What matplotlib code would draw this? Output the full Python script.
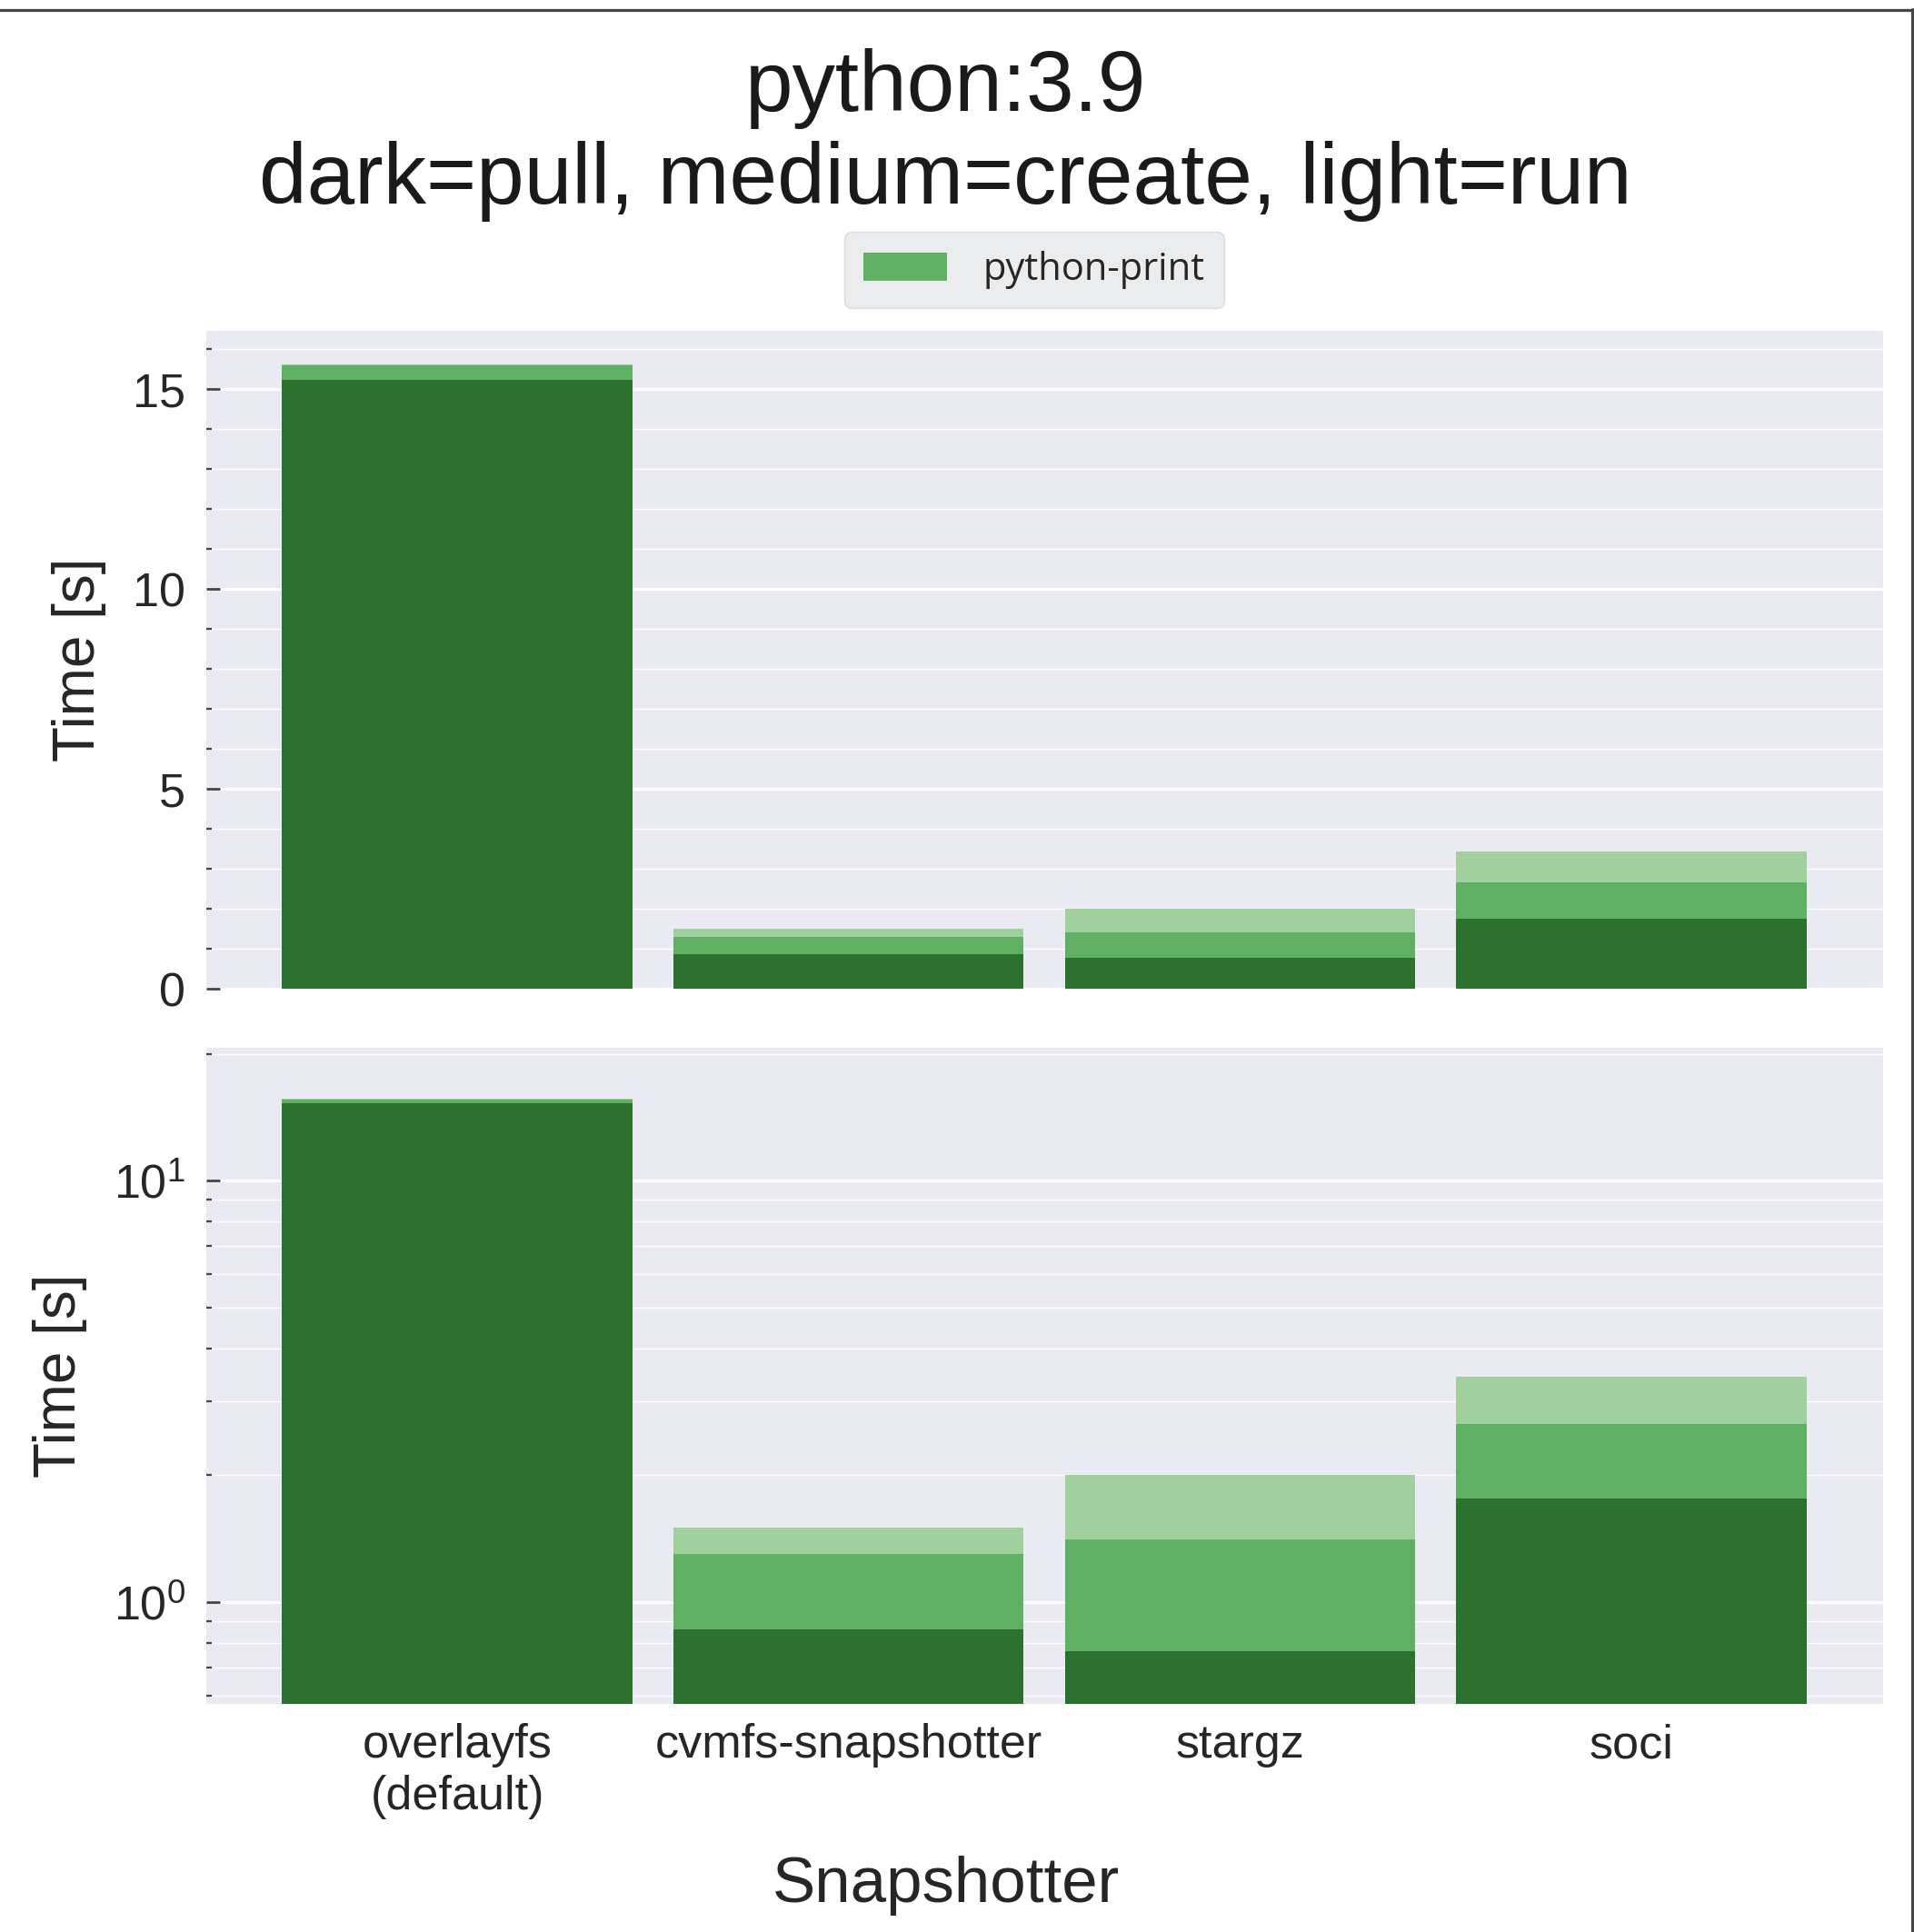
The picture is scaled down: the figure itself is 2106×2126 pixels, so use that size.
import matplotlib
matplotlib.use("Agg")
import matplotlib.pyplot as plt
import numpy as np
import seaborn as sns
from matplotlib.ticker import MultipleLocator, LogLocator, NullFormatter
from matplotlib.lines import Line2D
from matplotlib.patches import Patch

# ---- data ----
snapshotters = ["overlayfs\n(default)", "cvmfs-snapshotter", "stargz", "soci"]
pull = [15.23, 0.86, 0.765, 1.76]
create = [0.37, 0.44, 0.645, 0.89]
run = [0.03, 0.20, 0.59, 0.78]
legend_label = "python-print"
title_line1 = "python:3.9"
title_line2 = "dark=pull, medium=create, light=run"

dark = "#2d7131"
medium = "#5fb063"
light = "#a1d09e"

sns.set_style("darkgrid")
plt.rcParams['font.family'] = ['Liberation Sans', 'DejaVu Sans']
plt.rcParams['axes.facecolor'] = '#EAEAF2'

W, H = 2106, 2126
fig = plt.figure(figsize=(W / 100, H / 100), dpi=100)

left = 226.5 / W
width = (2072 - 226.5) / W
ax1 = fig.add_axes([left, 1 - 1088 / H, width, (1088 - 364) / H])
ax2 = fig.add_axes([left, 1 - 1875.3 / H, width, (1875.3 - 1152.6) / H])

x = np.arange(len(snapshotters))
pull_a = np.array(pull)
create_a = np.array(create)
run_a = np.array(run)
bw = 0.895

for ax in (ax1, ax2):
    ax.bar(x, pull_a, width=bw, color=dark, linewidth=0)
    ax.bar(x, create_a, width=bw, bottom=pull_a, color=medium, linewidth=0)
    ax.bar(x, run_a, width=bw, bottom=pull_a + create_a, color=light, linewidth=0)
    ax.set_xlim(-0.642, 3.643)
    for s in ax.spines.values():
        s.set_visible(False)
    ax.grid(True, which='major', axis='y', color='white', linewidth=2.2)
    ax.grid(True, which='minor', axis='y', color='white', linewidth=1.0)
    ax.grid(False, axis='x')
    ax.tick_params(axis='y', which='major', direction='in', left=True, length=11,
                   width=2.0, color='#444444', labelsize=37.5, pad=16, labelcolor='#262626')
    ax.tick_params(axis='y', which='minor', direction='in', left=True, length=4,
                   width=1.6, color='#444444')

ax1.set_ylabel("Time [s]", fontsize=46, color='#262626', labelpad=21)
ax2.set_ylabel("Time [s]", fontsize=46, color='#262626', labelpad=21)

# top: linear
ax1.set_ylim(0, 16.46)
ax1.yaxis.set_major_locator(MultipleLocator(5))
ax1.yaxis.set_minor_locator(MultipleLocator(1))
ax1.set_xticks(x)
ax1.set_xticklabels([])
ax1.tick_params(axis='x', bottom=False, length=0)

# bottom: log
ax2.set_yscale('log')
ax2.set_ylim(0.573, 20.7)
ax2.yaxis.set_major_locator(LogLocator(base=10, numticks=10))
ax2.yaxis.set_minor_locator(LogLocator(base=10, subs=np.arange(2, 10), numticks=20))
ax2.yaxis.set_minor_formatter(NullFormatter())
ax2.set_xticks(x)
ax2.set_xticklabels(snapshotters, fontsize=37.5, color='#262626', linespacing=1.22)
ax2.tick_params(axis='x', bottom=False, length=0, pad=15)

# x label centred on the figure like the reference
fig.text(0.494, 1 - 2075 / H, "Snapshotter", ha='center', va='center', fontsize=51, color='#262626')

# titles
fig.text(0.494, 1 - 122 / H, title_line1, ha='center', va='baseline', fontsize=68, color='#1a1a1a')
fig.text(0.494, 1 - 224 / H, title_line2, ha='center', va='baseline', fontsize=68, color='#1a1a1a')

# legend
handles = [Patch(facecolor=medium, edgecolor='none', label=legend_label)]
leg = fig.legend(handles=handles, loc='center', bbox_to_anchor=(1138 / W, 1 - 297 / H),
                 prop={'family': 'Open Sans', 'size': 30}, frameon=True, fancybox=True,
                 handlelength=2.2, handleheight=0.8, handletextpad=0.95, borderpad=0.5)
leg.get_frame().set_facecolor('#EAECEE')
leg.get_frame().set_edgecolor('#dcdcdc')
leg.get_frame().set_alpha(1.0)
leg.get_frame().set_linewidth(1.0)
for t in leg.get_texts():
    t.set_color('#262626')

# screenshot frame lines (top and right)
fig.add_artist(Line2D([0, 1], [1 - 11 / H, 1 - 11 / H], transform=fig.transFigure,
                      color='#454545', linewidth=2.3))
fig.add_artist(Line2D([1 - 2.5 / W, 1 - 2.5 / W], [0, 1 - 10 / H], transform=fig.transFigure,
                      color='#454545', linewidth=2.3))

fig.savefig("out.png", dpi=100, facecolor='white')
